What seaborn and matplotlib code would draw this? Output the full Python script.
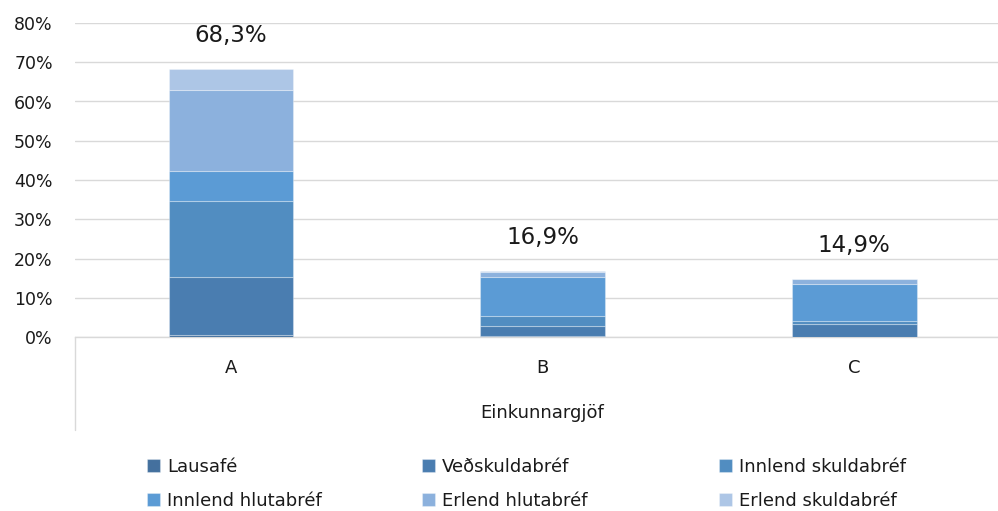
import matplotlib
matplotlib.use("Agg")
import matplotlib.pyplot as plt
import seaborn as sns
import numpy as np
from matplotlib.lines import Line2D

# ---- data (percent) ----
categories = ["A", "B", "C"]
series_names = ["Lausafé", "Veðskuldabréf", "Innlend skuldabréf",
                "Innlend hlutabréf", "Erlend hlutabréf", "Erlend skuldabréf"]
lausafe = [0.4, 0.2, 0.0]
vedskuldabref = [14.8, 2.5, 3.3]
innlend_skuldabref = [19.4, 2.6, 0.8]
innlend_hlutabref = [7.8, 10.1, 9.5]
erlend_hlutabref = [20.5, 1.2, 1.3]
erlend_skuldabref = [5.4, 0.3, 0.0]
total_labels = ["68,3%", "16,9%", "14,9%"]
y_ticks = [0, 10, 20, 30, 40, 50, 60, 70, 80]
y_tick_labels = ["0%", "10%", "20%", "30%", "40%", "50%", "60%", "70%", "80%"]
x_title = "Einkunnargjöf"

series_values = [lausafe, vedskuldabref, innlend_skuldabref,
                 innlend_hlutabref, erlend_hlutabref, erlend_skuldabref]
colors = ["#44709e", "#4a7db0", "#518dc1", "#5b9bd5", "#8cb1dd", "#adc6e6"]

sns.set_style("white")
plt.rcParams["font.family"] = ["DejaVu Sans"]
text_color = "#1a1a1a"

W, H = 998, 511
fig = plt.figure(figsize=(W / 100, H / 100), dpi=100)
ax = fig.add_axes([75 / W, 1 - 337 / H, 935 / W, 314 / H])

bottom = np.zeros(len(categories))
for name, vals, col in zip(series_names, series_values, colors):
    sns.barplot(x=categories, y=vals, bottom=bottom.copy(), color=col,
                saturation=1, width=0.4, errorbar=None, ax=ax, label=name,
                edgecolor=(1, 1, 1, 0.3), linewidth=0.8, zorder=3)
    bottom += np.array(vals)

if ax.get_legend() is not None:
    ax.get_legend().remove()

totals = bottom
for i, (t, lab) in enumerate(zip(totals, total_labels)):
    ax.annotate(lab, xy=(i, t), xytext=(0, 24), textcoords="offset points",
                ha="center", va="center", fontsize=16.5, color=text_color)

ax.set_xlim(-0.5, 2.5)
ax.set_ylim(0, 80)
ax.set_yticks(y_ticks)
ax.set_yticklabels(y_tick_labels)
ax.yaxis.grid(True, color="#d9d9d9", linewidth=1.0, zorder=0)
ax.set_axisbelow(True)
for s in ["top", "right", "left"]:
    ax.spines[s].set_visible(False)
ax.spines["bottom"].set_color("#d9d9d9")
ax.spines["bottom"].set_linewidth(1.0)
ax.tick_params(axis="y", length=0, labelsize=12.5, colors=text_color, pad=16)
ax.tick_params(axis="x", length=0, labelsize=13, colors=text_color, pad=16)
ax.set_ylabel("")
ax.set_xlabel(x_title, fontsize=13, color=text_color)
ax.xaxis.label.set_va("center")
ax.xaxis.set_label_coords(0.5, (337 - 413) / 314)

# category-axis left border line below the plot
fig.add_artist(Line2D([75 / W, 75 / W], [1 - 337 / H, 1 - 430 / H],
                      color="#d9d9d9", linewidth=1.0))

# legend: three columns, two rows
handles = [c.patches[0] for c in ax.containers]
col_x = [147, 422, 719]
for j in range(3):
    hs = [handles[j], handles[j + 3]]
    ls = [series_names[j], series_names[j + 3]]
    leg = fig.legend(hs, ls, loc="upper left",
                     bbox_to_anchor=(col_x[j] / W, 1 - 457.5 / H),
                     frameon=False, fontsize=13, handlelength=0.7,
                     handleheight=0.7, handletextpad=0.4, labelspacing=0.91,
                     borderaxespad=0, borderpad=0)
    for t in leg.get_texts():
        t.set_color(text_color)

fig.savefig("out.png", dpi=100)
